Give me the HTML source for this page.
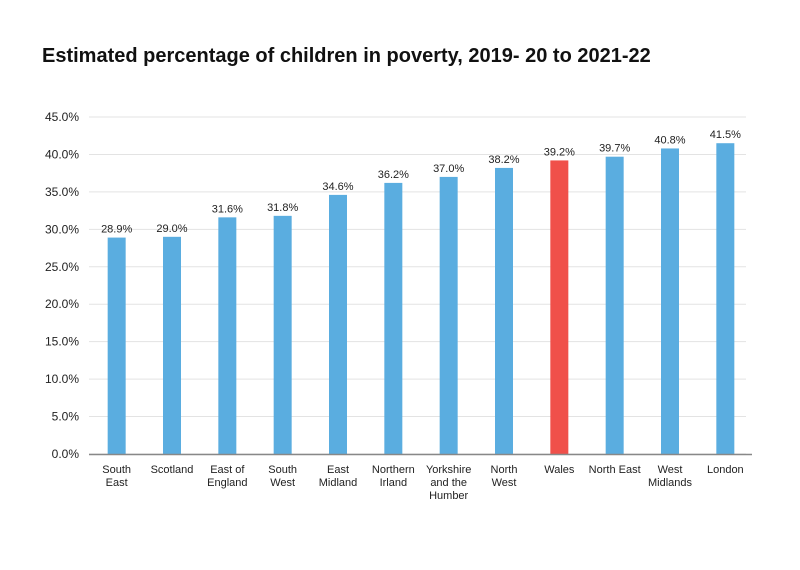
<!DOCTYPE html>
<html><head><meta charset="utf-8"><style>
body{margin:0;background:#fff;font-family:"Liberation Sans",sans-serif;}
svg text{font-family:"Liberation Sans",sans-serif;fill:#222;}
</style></head><body>
<svg id="c" width="800" height="565">
<text x="42" y="62" font-size="20" font-weight="bold" style="fill:#111">Estimated percentage of children in poverty, 2019- 20 to 2021-22</text>
</svg>
<script>
const categories=[["South","East"],["Scotland"],["East of","England"],["South","West"],["East","Midland"],["Northern","Irland"],["Yorkshire","and the","Humber"],["North","West"],["Wales"],["North East"],["West","Midlands"],["London"]];
const values=[28.9,29.0,31.6,31.8,34.6,36.2,37.0,38.2,39.2,39.7,40.8,41.5];
const highlight=["Wales"];
const ticks=[0,5,10,15,20,25,30,35,40,45];
const svg=document.getElementById('c');const NS='http://www.w3.org/2000/svg';
const x0=89,x1=753,y0=454,yTop=117,yMax=45;
const y=v=>y0-(v/yMax)*(y0-yTop);
const band=(x1-x0)/categories.length;
const xc=i=>x0+(i+0.5)*band;
function mk(t,a){const e=document.createElementNS(NS,t);for(const k in a)e.setAttribute(k,a[k]);svg.appendChild(e);return e;}
ticks.forEach(t=>{
 const l=mk('line',{x1:x0,x2:746,y1:y(t),y2:y(t),stroke:'#e3e3e3','stroke-width':1});
 
 
 const tx=mk('text',{x:79,y:y(t)+4,'text-anchor':'end','font-size':12});
 tx.textContent=t.toFixed(1)+'%';
 
 
});
values.forEach((v,i)=>{
 const name=categories[i].join(' ');
 const r=mk('rect',{x:xc(i)-9,y:y(v),width:18,height:y0-y(v),fill:highlight.includes(name)?'#f0504a':'#5aade0'});
 
 
 const t=mk('text',{x:xc(i),y:y(v)-5,'text-anchor':'middle','font-size':11});
 t.textContent=v.toFixed(1)+'%';
 
 
 categories[i].forEach((ln,j)=>{
  const c=mk('text',{x:xc(i),y:473+j*13,'text-anchor':'middle','font-size':11});
  c.textContent=ln;
  
  
 });
});
const ax=mk('line',{x1:x0,x2:752,y1:y0+0.5,y2:y0+0.5,stroke:'#888','stroke-width':1.5});


</script>
</body></html>
